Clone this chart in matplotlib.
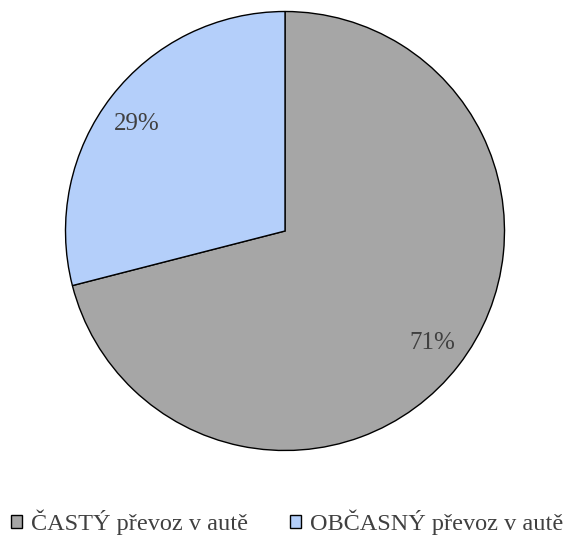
import matplotlib
matplotlib.use("Agg")
import matplotlib.pyplot as plt

labels = ["ČASTÝ převoz v autě", "OBČASNÝ převoz v autě"]
shares = [71, 29]
colors = ["#a6a6a6", "#b4cffa"]

plt.rcParams["font.family"] = ["Liberation Serif", "DejaVu Serif"]

fig = plt.figure(figsize=(5.66, 5.36), dpi=100)
W, H = 566, 536
cx, cy, r = 285, 231, 219.5
ax = fig.add_axes([(cx - r) / W, (H - cy - r) / H, 2 * r / W, 2 * r / H])

wedges, texts, autotexts = ax.pie(
    shares,
    colors=colors,
    startangle=90,
    counterclock=False,
    autopct="%d%%",
    pctdistance=0.84,
    wedgeprops=dict(edgecolor="black", linewidth=1),
    textprops=dict(color="#404040", fontsize=18),
)
# small per-label nudges (pixels: dx, dy)
for t, (dx, dy) in zip(autotexts, [(2, 1), (-3, -6)]):
    x, y = t.get_position()
    t.set_position((x + dx / r, y + dy / r))
ax.set_xlim(-1, 1)
ax.set_ylim(-1, 1)
ax.set_aspect("equal")

fig.legend(
    wedges,
    labels,
    loc="center",
    bbox_to_anchor=(287 / W, 1 - 522 / H),
    ncol=2,
    frameon=False,
    fontsize=17.5,
    handlelength=0.45,
    handleheight=0.45,
    handletextpad=0.37,
    columnspacing=1.73,
    labelcolor="#404040",
    borderpad=0,
)

fig.savefig("out.png", dpi=100)
